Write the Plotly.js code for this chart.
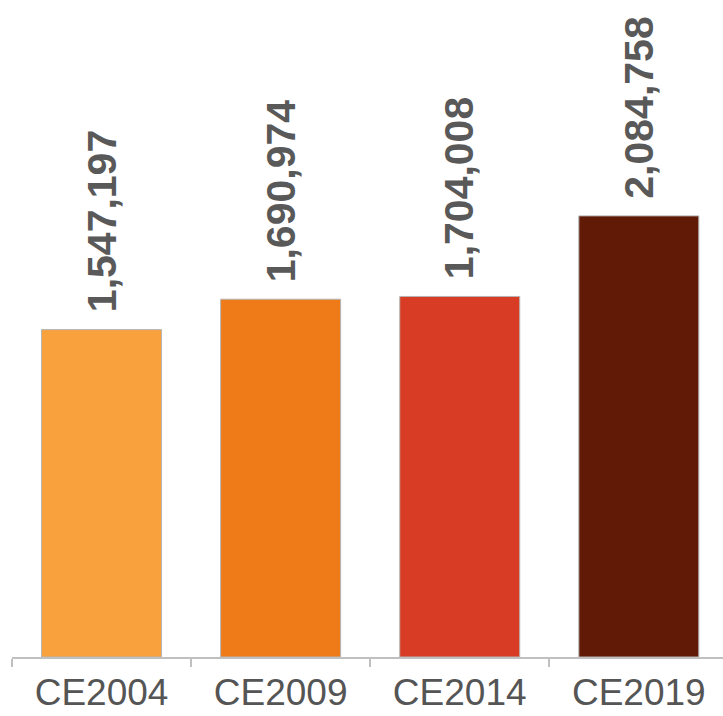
<!DOCTYPE html>
<html>
<head>
<meta charset="utf-8">
<script src="https://cdn.plot.ly/plotly-3.0.1.min.js"></script>
<style>html,body{margin:0;padding:0;background:#fff;}#chart{width:723px;height:716px;}</style>
</head>
<body>
<div id="chart"></div>
<script>
var categories = ["CE2004", "CE2009", "CE2014", "CE2019"];
var values = [1547197, 1690974, 1704008, 2084758];
var barColors = ["#F9A13D", "#EE7A18", "#D83C24", "#611A05"];

var labels = values.map(function (v) { return v.toLocaleString("en-US"); });

var trace = {
  type: "bar",
  x: categories,
  y: values,
  marker: { color: barColors, line: { color: "#b5b5b5", width: 1 } },
  hoverinfo: "none"
};

var annotations = categories.map(function (c, i) {
  return {
    x: c, y: values[i], xref: "x", yref: "y",
    text: labels[i], textangle: -90, showarrow: false,
    yanchor: "bottom", xanchor: "center", yshift: 15,
    font: { family: "Liberation Sans, Arial, sans-serif", size: 41, color: "#595959", weight: "bold" }
  };
});

var layout = {
  width: 723, height: 716,
  margin: { l: 12, r: 0, t: 0, b: 59 },
  paper_bgcolor: "#ffffff", plot_bgcolor: "#ffffff",
  showlegend: false,
  bargap: 0.33,
  xaxis: {
    type: "category",
    range: [-0.5, 3.47],
    showline: true, linecolor: "#c0c0c0", linewidth: 2,
    ticks: "outside", tickson: "boundaries", ticklen: 8, tickcolor: "#c0c0c0", tickwidth: 2,
    ticklabelstandoff: 2,
    tickfont: { family: "Liberation Sans, Arial, sans-serif", size: 37, color: "#555555" },
    showgrid: false, zeroline: false, fixedrange: true
  },
  yaxis: {
    range: [0, 3105000],
    visible: false, showgrid: false, zeroline: false, fixedrange: true
  },
  annotations: annotations
};

Plotly.newPlot("chart", [trace], layout, { displayModeBar: false, staticPlot: true });
</script>
</body>
</html>
